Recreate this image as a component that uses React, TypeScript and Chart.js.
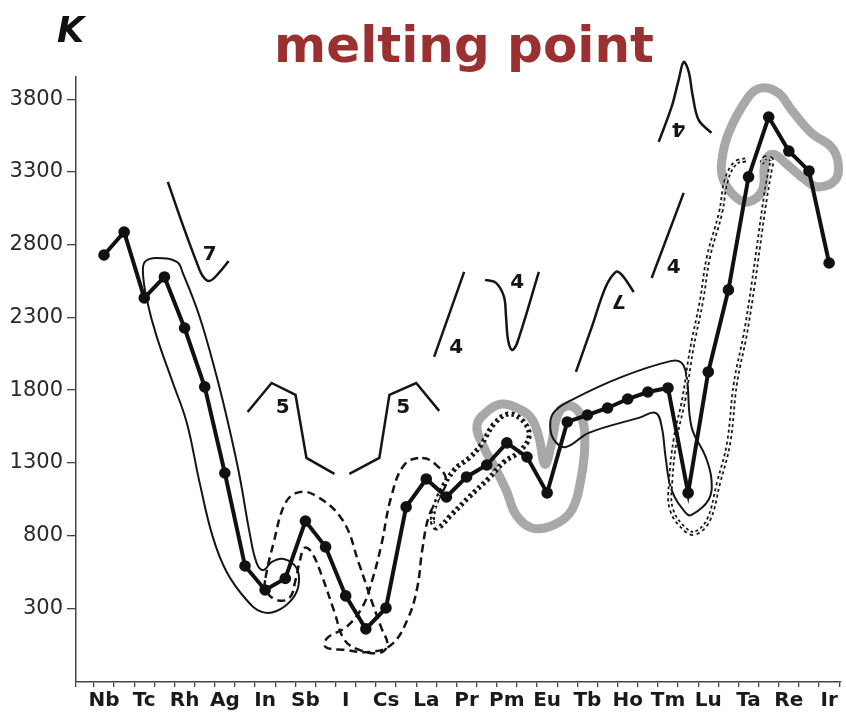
import React, { useEffect, useRef } from 'react';
import { Chart, registerables } from 'chart.js';

Chart.register(...registerables);

// ---------- data ----------
const ELEMENTS = ['Nb','Mo','Tc','Ru','Rh','Pd','Ag','Cd','In','Sn','Sb','Te','I','Xe','Cs','Ba','La','Ce','Pr','Nd','Pm','Sm','Eu','Gd','Tb','Dy','Ho','Er','Tm','Yb','Lu','Hf','Ta','W','Re','Os','Ir'];
const MELTING_K = [2729,2887,2434,2578,2227,1822,1230,591,426,505,900,722,385,158,302,997,1189,1065,1203,1285,1437,1340,1093,1581,1629,1677,1739,1787,1815,1093,1925,2489,3266,3678,3444,3307,2674];
const Y_TICKS = [300,800,1300,1800,2300,2800,3300,3800];
const X_MIN = -1.39;
const X_MAX = 36.55;
const Y_MIN = -207;
const Y_MAX = 3953;

// envelopes (element index, kelvin)
const ENV_SOLID_A = [[2.62,2709],[3.62,2681],[3.91,2606],[4.75,2303],[5.6,1890],[6.24,1526],[6.74,1203],[7.23,818],[7.58,611],[7.92,563],[8.32,618],[8.92,639],[9.56,577],[9.66,460],[9.31,357],[8.57,281],[7.83,275],[7.08,357],[6.09,550],[5.4,791],[4.75,1162],[4.11,1575],[3.42,1850],[2.62,2166],[2.13,2420],[1.93,2612],[2.05,2685]];
const ENV_DASH_B1 = [[8.02,509],[8.42,749],[8.96,1011],[9.56,1093],[10.45,1079],[11.84,907],[12.68,598],[13.27,357],[13.77,165],[14.07,48],[13.67,-7],[12.68,14],[11.94,82],[11.44,275],[10.8,529],[10.3,687],[9.96,715],[9.71,619],[9.51,495],[9.21,371],[8.57,357],[8.02,426]];
const ENV_DASH_B2 = [[15.8,1334],[16.49,1286],[16.99,1183],[16.64,1059],[16.15,942],[15.8,701],[15.55,440],[15.06,220],[14.26,48],[13.17,0],[11.94,14],[11.0,34],[11.09,96],[12.04,172],[12.83,309],[13.32,495],[13.77,736],[14.26,1066],[14.91,1286]];
const ENV_DOUBLE_C = [[16.3,907],[16.64,1079],[17.38,1251],[18.13,1334],[18.72,1423],[19.37,1568],[20.11,1636],[20.85,1581],[21.1,1478],[20.6,1375],[19.86,1306],[19.12,1196],[18.13,1066],[17.24,942],[16.54,852]];
const ENV_GRAY_D = [[18.52,1561],[19.12,1664],[19.76,1705],[20.51,1678],[21.2,1609],[21.59,1478],[21.89,1290],[22.2,1420],[22.59,1650],[23.18,1691],[23.72,1609],[23.87,1423],[23.67,1183],[23.23,976],[22.34,873],[21.25,852],[20.46,942],[19.96,1114],[19.42,1265],[18.87,1403]];
const ENV_SOLID_E = [[25.71,1891],[28.18,2001],[28.68,1987],[28.93,1891],[29.17,1547],[29.87,1341],[30.16,1183],[30.01,1045],[29.17,942],[28.88,956],[28.18,1114],[27.88,1341],[27.69,1547],[27.39,1643],[26.55,1609],[24.07,1506],[22.93,1409],[22.34,1458],[22.15,1560],[22.35,1650],[23.23,1733]];
const ENV_DOUBLE_F = [[31.85,3383],[31.35,3362],[30.9,3245],[30.61,3018],[30.01,2716],[29.67,2420],[29.17,2076],[28.78,1733],[28.38,1478],[28.13,1162],[28.18,976],[28.88,839],[29.37,818],[30.01,907],[30.51,1162],[31.01,1437],[31.35,1849],[31.85,2193],[32.24,2537],[32.49,2785],[32.84,3128],[33.09,3328],[33.14,3383],[32.84,3397],[32.64,3362]];
const ENV_GRAY_G = [[30.66,3362],[31.01,3568],[32.0,3816],[32.64,3878],[33.48,3844],[34.13,3727],[35.12,3568],[36.11,3472],[36.45,3362],[36.31,3245],[35.46,3197],[34.82,3245],[33.83,3362],[33.33,3417],[32.99,3410],[32.79,3348],[32.69,3177],[32.0,3094],[31.35,3128],[30.76,3245]];

// period-number fragments
const FRAG_7 = [[3.17,3232],[3.91,2936],[4.61,2675],[4.9,2585],[5.25,2551],[5.75,2613],[6.19,2688]];
const FRAG_5A = [[7.13,1650],[8.32,1849],[9.51,1767],[10.05,1334],[11.44,1224]];
const FRAG_5B = [[12.18,1224],[13.67,1334],[14.17,1767],[15.5,1849],[16.64,1657]];
const FRAG_4A = [[17.88,2613],[16.39,2028]];
const FRAG_4B = [[18.92,2558],[19.46,2537],[19.86,2441],[19.96,2303],[20.06,2145],[20.26,2076],[20.51,2124],[21.59,2613]];
const FRAG_7INV = [[23.43,1925],[24.22,2235],[24.91,2510],[25.41,2613],[25.71,2592],[26.3,2475]];
const FRAG_4C = [[28.78,3156],[27.19,2571]];
const FRAG_4INV = [[27.54,3507],[28.18,3747],[28.53,3933],[28.78,4057],[29.03,3988],[29.22,3830],[29.52,3658],[30.16,3568]];

const LABEL_TEXT = ['7','5','5','4','4','7','4','4'];
const LABEL_POS = [[5.25,2730],[8.87,1678],[14.86,1678],[17.48,2090],[20.51,2537],[25.56,2420],[28.28,2640],[28.53,3603]];
const LABEL_FLIP = [false,false,false,false,false,true,false,true];

// ---------- helpers ----------
const pts = (arr: number[][]) => arr.map(([x, y]) => ({ x, y }));

// closed smooth loop: pad with wrap-around neighbours, hide the two padding segments
const loop = (arr: number[][]) => {
  const n = arr.length;
  const seq = [arr[n - 1], ...arr, arr[0], arr[1]];
  return {
    data: pts(seq),
    segment: {
      borderColor: (c: any) => (c.p0DataIndex === 0 || c.p0DataIndex === n + 1 ? 'rgba(0,0,0,0)' : undefined),
    },
  };
};

const base = {
  pointRadius: 0,
  pointHoverRadius: 0,
  fill: false,
  clip: false as any,
  capBezierPoints: false,
  borderColor: '#151515',
};

const FONT = '"DejaVu Sans", "Noto Sans", sans-serif';

const textPlugin = {
  id: 'textPlugin',
  afterDatasetsDraw(chart: any) {
    const { ctx, scales } = chart;
    ctx.save();
    ctx.fillStyle = '#151515';
    ctx.font = `bold 20px ${FONT}`;
    ctx.textAlign = 'center';
    ctx.textBaseline = 'middle';
    LABEL_TEXT.forEach((t, k) => {
      const px = scales.x.getPixelForValue(LABEL_POS[k][0]);
      const py = scales.y.getPixelForValue(LABEL_POS[k][1]);
      ctx.save();
      ctx.translate(px, py);
      if (LABEL_FLIP[k]) ctx.rotate(Math.PI);
      ctx.fillText(t, 0, 0);
      ctx.restore();
    });
    ctx.restore();
  },
  afterDraw(chart: any) {
    const { ctx } = chart;
    ctx.save();
    ctx.fillStyle = '#9b3030';
    ctx.font = `bold 50px ${FONT}`;
    ctx.textAlign = 'center';
    ctx.textBaseline = 'alphabetic';
    ctx.fillText('melting point', 464, 62);
    ctx.fillStyle = '#111';
    ctx.font = `italic bold 35px ${FONT}`;
    ctx.textAlign = 'left';
    ctx.fillText('K', 57, 42);
    ctx.restore();
  },
};

export default function App() {
  const ref = useRef<HTMLCanvasElement | null>(null);

  useEffect(() => {
    if (!ref.current) return;
    const xTicks: number[] = [X_MIN];
    for (let k = -1; k <= (ELEMENTS.length - 1) * 2 + 1; k++) xTicks.push(k / 2);

    const dsMain = {
      data: ELEMENTS.map((_, i) => ({ x: i, y: MELTING_K[i] })),
      borderColor: '#111',
      backgroundColor: '#111',
      borderWidth: 4,
      pointRadius: 5.8,
      pointHoverRadius: 5.8,
      pointBackgroundColor: '#111',
      pointBorderWidth: 0,
      tension: 0,
      fill: false,
      order: 0,
    };

    const datasets: any[] = [
      dsMain,
      { ...base, ...loop(ENV_GRAY_D), borderColor: '#a8a8a8', borderWidth: 9, tension: 0.4, order: 20 },
      { ...base, ...loop(ENV_GRAY_G), borderColor: '#a8a8a8', borderWidth: 9, tension: 0.4, order: 20 },
      { ...base, ...loop(ENV_SOLID_A), borderWidth: 2, tension: 0.4, order: 10 },
      { ...base, ...loop(ENV_SOLID_E), borderWidth: 2, tension: 0.4, order: 10 },
      { ...base, ...loop(ENV_DASH_B1), borderWidth: 2.5, borderDash: [8, 5], tension: 0.4, order: 10 },
      { ...base, ...loop(ENV_DASH_B2), borderWidth: 2.5, borderDash: [8, 5], tension: 0.4, order: 10 },
      { ...base, ...loop(ENV_DOUBLE_C), borderWidth: 5, borderDash: [3, 3], tension: 0.4, order: 9 },
      { ...base, ...loop(ENV_DOUBLE_C), borderWidth: 1.5, borderDash: [3, 3], borderColor: '#ffffff', segment: undefined, tension: 0.4, order: 8 },
      { ...base, data: pts(ENV_DOUBLE_F), borderWidth: 5, borderDash: [3, 3], tension: 0.4, order: 9 },
      { ...base, data: pts(ENV_DOUBLE_F), borderWidth: 1.5, borderDash: [3, 3], borderColor: '#ffffff', tension: 0.4, order: 8 },
      { ...base, data: pts(FRAG_7), borderWidth: 2.5, tension: 0.35, order: 5 },
      { ...base, data: pts(FRAG_5A), borderWidth: 2.5, tension: 0, order: 5 },
      { ...base, data: pts(FRAG_5B), borderWidth: 2.5, tension: 0, order: 5 },
      { ...base, data: pts(FRAG_4A), borderWidth: 2.5, tension: 0, order: 5 },
      { ...base, data: pts(FRAG_4B), borderWidth: 2.5, tension: 0.35, order: 5 },
      { ...base, data: pts(FRAG_7INV), borderWidth: 2.5, tension: 0.35, order: 5 },
      { ...base, data: pts(FRAG_4C), borderWidth: 2.5, tension: 0, order: 5 },
      { ...base, data: pts(FRAG_4INV), borderWidth: 2.5, tension: 0.35, order: 5 },
    ];

    const chart = new Chart(ref.current, {
      type: 'line',
      data: { datasets },
      options: {
        animation: false,
        responsive: false,
        events: [],
        layout: { padding: { top: 77, right: 4, left: 0, bottom: 0 } },
        plugins: { legend: { display: false }, tooltip: { enabled: false }, title: { display: false } },
        scales: {
          x: {
            type: 'linear',
            min: X_MIN,
            max: X_MAX,
            afterBuildTicks: (s: any) => { s.ticks = xTicks.map((v) => ({ value: v })); },
            afterFit: (s: any) => { s.height = 39; },
            ticks: {
              autoSkip: false,
              maxRotation: 0,
              minRotation: 0,
              padding: 2,
              color: '#1a1a1a',
              font: { family: FONT, size: 20, weight: 'bold' },
              callback: (v: any) => {
                const n = Number(v);
                return Number.isInteger(n) && n % 2 === 0 && n >= 0 ? ELEMENTS[n] : '';
              },
            },
            grid: {
              drawOnChartArea: false,
              drawTicks: true,
              tickLength: 5,
              lineWidth: 1.3,
              color: (c: any) => (c.tick && Number.isInteger(c.tick.value) ? 'rgba(0,0,0,0)' : '#444'),
            },
            border: { display: true, color: '#444', width: 1.5 },
          },
          y: {
            type: 'linear',
            min: Y_MIN,
            max: Y_MAX,
            afterBuildTicks: (s: any) => { s.ticks = Y_TICKS.map((v) => ({ value: v })); },
            afterFit: (s: any) => { s.width = 76; },
            ticks: {
              padding: 4,
              color: '#2a2a2a',
              font: { family: FONT, size: 21 },
              callback: (v: any) => String(v),
            },
            grid: { drawOnChartArea: false, drawTicks: true, tickLength: 9, lineWidth: 1.3, color: '#444' },
            border: { display: true, color: '#444', width: 1.5 },
          },
        },
      } as any,
      plugins: [textPlugin],
    });
    return () => chart.destroy();
  }, []);

  return (
    <div style={{ position: 'absolute', left: 0, top: 0, width: 846, height: 721, background: '#fff' }}>
      <canvas ref={ref} width={846} height={721} style={{ display: 'block', width: 846, height: 721 }} />
    </div>
  );
}
